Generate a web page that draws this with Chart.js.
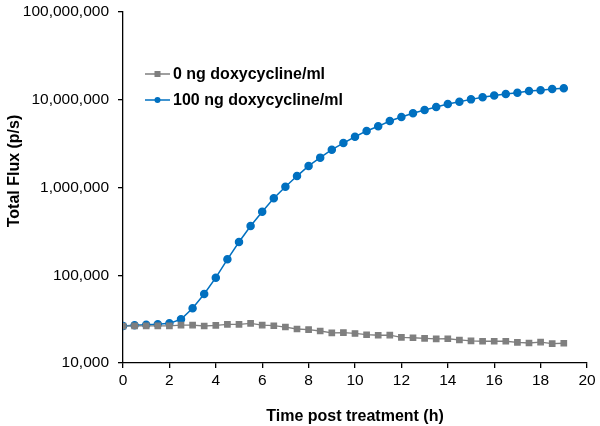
<!DOCTYPE html>
<html>
<head>
<meta charset="utf-8">
<script src="https://cdn.jsdelivr.net/npm/chart.js@4/dist/chart.umd.min.js"></script>
<style>
  html, body { margin: 0; padding: 0; background: #fff; }
  #wrap { width: 600px; height: 426px; }
</style>
</head>
<body>
<div id="wrap"><canvas id="c" width="600" height="426"></canvas></div>
<script>
// ---- data ----
const timeHours = [0, 0.5, 1, 1.5, 2, 2.5, 3, 3.5, 4, 4.5, 5, 5.5, 6, 6.5, 7, 7.5, 8, 8.5, 9, 9.5,
  10, 10.5, 11, 11.5, 12, 12.5, 13, 13.5, 14, 14.5, 15, 15.5, 16, 16.5, 17, 17.5, 18, 18.5, 19];

const flux0ng = [26300, 26500, 26500, 26500, 26500, 27000, 27000, 26400, 26900, 27600,
  27600, 28300, 27000, 26600, 25700, 24400, 24000, 23150, 22000, 22200,
  21700, 21000, 20700, 20800, 19600, 19400, 19100, 18800, 18900, 18300,
  17900, 17700, 17700, 17700, 17200, 16900, 17300, 16600, 16800];

const flux100ng = [26400, 26900, 27300, 27600, 28300, 31500, 42000, 61100, 93800, 152000,
  239000, 364000, 530000, 753000, 1020000, 1350000, 1760000, 2190000, 2700000, 3210000,
  3790000, 4410000, 4980000, 5720000, 6360000, 7010000, 7650000, 8270000, 8950000, 9500000,
  10100000, 10700000, 11200000, 11600000, 12000000, 12600000, 12800000, 13300000, 13500000];

const seriesLabels = ['0 ng doxycycline/ml', '100 ng doxycycline/ml'];
const yTickValues = [10000, 100000, 1000000, 10000000, 100000000];
const xTitle = 'Time post treatment (h)';
const yTitle = 'Total Flux (p/s)';

const FONT = 'Arial, "Liberation Sans", sans-serif';

const toPoints = (ys) => timeHours.map((t, i) => ({ x: t, y: ys[i] }));

const legendPlugin = {
  id: 'insideLegend',
  afterDraw(chart) {
    const ctx = chart.ctx;
    const area = chart.chartArea;
    const x0 = area.left + 22;
    const y0 = area.top + 62;
    const rowH = 26;
    ctx.save();
    chart.data.datasets.forEach((ds, i) => {
      const y = y0 + i * rowH;
      ctx.strokeStyle = ds.borderColor;
      ctx.lineWidth = 1.5;
      ctx.beginPath();
      ctx.moveTo(x0, y);
      ctx.lineTo(x0 + 25, y);
      ctx.stroke();
      ctx.fillStyle = ds.pointBackgroundColor;
      const mx = x0 + 12.5;
      if (ds.pointStyle === 'rect') {
        ctx.fillRect(mx - 3, y - 3, 6, 6);
      } else {
        ctx.beginPath();
        ctx.arc(mx, y, 3, 0, Math.PI * 2);
        ctx.fill();
      }
      ctx.fillStyle = '#000';
      ctx.font = 'bold 16px ' + FONT;
      ctx.textAlign = 'left';
      ctx.textBaseline = 'middle';
      ctx.fillText(ds.label, x0 + 28, y + 1);
    });
    // y-axis title
    ctx.translate(15, 171);
    ctx.rotate(-Math.PI / 2);
    ctx.font = 'bold 16px ' + FONT;
    ctx.textAlign = 'center';
    ctx.textBaseline = 'middle';
    ctx.fillStyle = '#000';
    ctx.fillText(yTitle, 0, 0);
    ctx.restore();
  }
};

new Chart(document.getElementById('c'), {
  type: 'line',
  data: {
    datasets: [
      {
        label: seriesLabels[0],
        data: toPoints(flux0ng),
        borderColor: '#7f7f7f',
        backgroundColor: '#7f7f7f',
        pointBackgroundColor: '#7f7f7f',
        pointBorderColor: '#7f7f7f',
        pointStyle: 'rect',
        pointRadius: 3.8,
        borderWidth: 1.3,
        tension: 0
      },
      {
        label: seriesLabels[1],
        data: toPoints(flux100ng),
        borderColor: '#0070c0',
        backgroundColor: '#0070c0',
        pointBackgroundColor: '#0070c0',
        pointBorderColor: '#0070c0',
        pointStyle: 'circle',
        pointRadius: 3.5,
        borderWidth: 1.5,
        tension: 0
      }
    ]
  },
  options: {
    responsive: false,
    animation: false,
    layout: { padding: { left: 0, right: 13, top: 12, bottom: 0 } },
    plugins: {
      legend: { display: false },
      tooltip: { enabled: false }
    },
    scales: {
      x: {
        type: 'linear',
        min: 0,
        max: 20,
        ticks: { stepSize: 2, color: '#000', font: { family: FONT, size: 15.5 }, padding: 3, maxRotation: 0 },
        grid: { drawOnChartArea: false, drawTicks: true, tickLength: 5, color: '#000', lineWidth: 1.3 },
        border: { color: '#000', width: 1.3 },
        title: { display: true, text: xTitle, color: '#000', font: { family: FONT, size: 16, weight: 'bold' }, padding: { top: 8, bottom: 0 } },
        afterFit(scale) { scale.height = 63; scale.paddingLeft = 0; scale.paddingRight = 0; }
      },
      y: {
        type: 'logarithmic',
        min: 10000,
        max: 100000000,
        afterBuildTicks(scale) { scale.ticks = yTickValues.map(v => ({ value: v })); },
        ticks: {
          color: '#000',
          font: { family: FONT, size: 15.5 },
          padding: 9,
          callback: (v) => Number(v).toLocaleString('en-US')
        },
        grid: { drawOnChartArea: false, drawTicks: true, tickLength: 5, color: '#000', lineWidth: 1.3 },
        border: { color: '#000', width: 1.3 },
        afterFit(scale) { scale.width = 123; scale.paddingTop = 0; scale.paddingBottom = 0; }
      }
    }
  },
  plugins: [legendPlugin]
});
</script>
</body>
</html>
